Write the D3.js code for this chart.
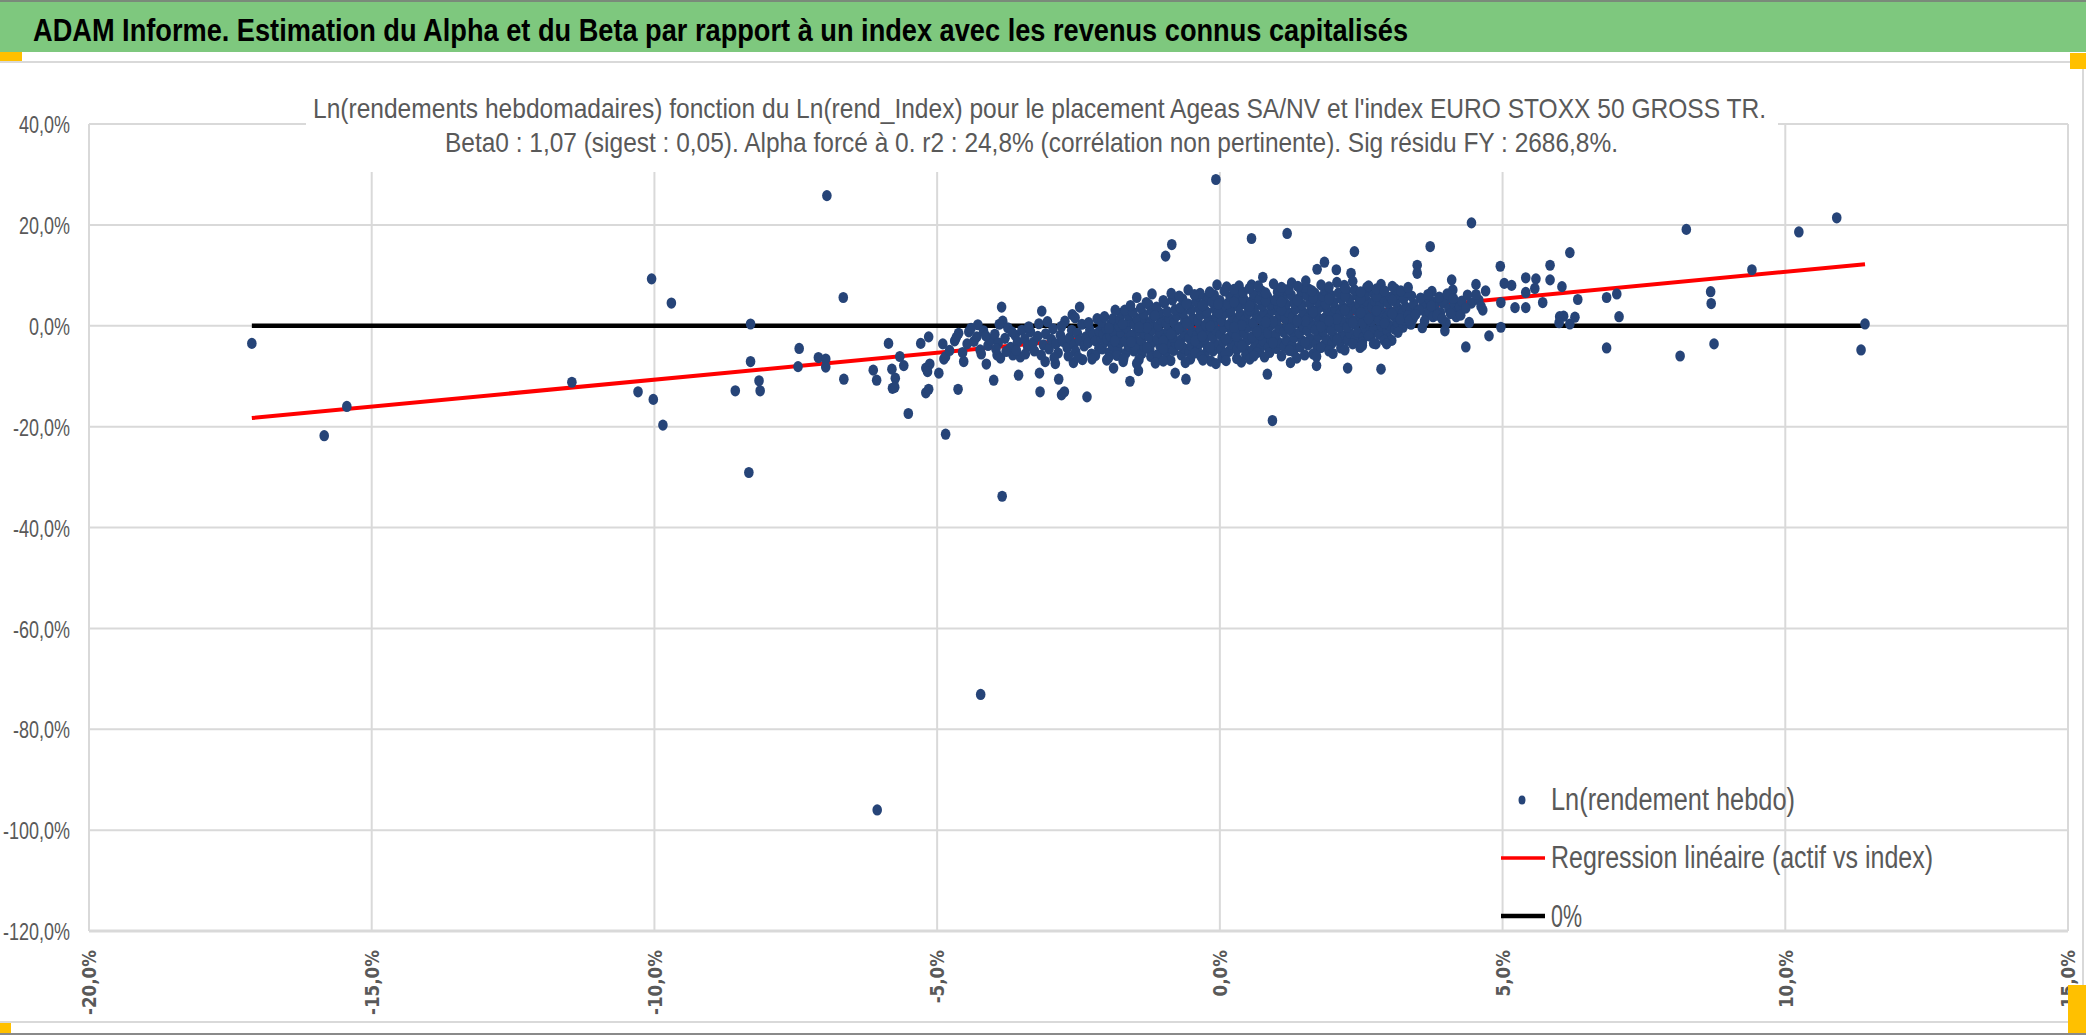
<!DOCTYPE html>
<html><head><meta charset="utf-8">
<script src="https://cdn.jsdelivr.net/npm/d3@7"></script>
<style>html,body{margin:0;padding:0;background:#fff;overflow:hidden}svg{display:block}</style>
</head><body>
<svg id="chart" width="2086" height="1035"></svg>
<script>
// ---------- texts ----------
const headerTitle = "ADAM Informe. Estimation du Alpha et du Beta par rapport à un index avec les revenus connus capitalisés";
const chartTitleLines = [
  "Ln(rendements hebdomadaires) fonction du Ln(rend_Index) pour le placement Ageas SA/NV et l'index EURO STOXX 50 GROSS TR.",
  "Beta0 : 1,07 (sigest : 0,05). Alpha forcé à 0. r2 : 24,8% (corrélation non pertinente). Sig résidu FY : 2686,8%."
];
const legendLabels = ["Ln(rendement hebdo)", "Regression linéaire (actif vs index)", "0%"];

// ---------- axes ----------
const xTicks = [-20, -15, -10, -5, 0, 5, 10, 15];
const yTicks = [40, 20, 0, -20, -40, -60, -80, -100, -120];

// ---------- lines (index %, asset %) ----------
const regressionLine = [[-17.12, -18.3], [11.41, 12.2]];
const zeroLine = [[-17.12, 0], [11.41, 0]];

// ---------- weekly points [index %, asset %] ----------
const pointsLeft = [
  [-17.12,-3.5],[-15.84,-21.8],[-15.44,-16.0],[-11.46,-11.2],[-10.29,-13.1],[-10.02,-14.6],[-9.85,-19.7],
  [-10.05,9.3],[-9.70,4.5],[-8.57,-12.9],[-8.33,-29.1],[-8.15,-10.9],[-8.13,-12.9],[-8.3,0.35],[-8.3,-7.1],
  [-7.44,-4.5],[-7.46,-8.1],[-7.1,-6.3],[-6.97,-6.6],[-6.97,-8.2],[-6.95,25.8],[-6.66,5.6],[-6.65,-10.6],
  [-6.13,-8.8],[-6.07,-10.8],[-5.86,-3.5],[-5.8,-8.6],[-5.74,-10.4],[-5.79,-12.4],[-5.75,-12.2],[-5.66,-6.1],
  [-5.59,-7.9],[-5.51,-17.4],[-5.29,-3.5],[-5.15,-2.2],[-5.2,-8.4],[-5.13,-7.6],[-5.17,-9.1],[-5.2,-13.3],
  [-5.15,-12.6],[-4.97,-9.4],[-4.88,-6.6],[-4.85,-6.1],[-4.69,-3.0],[-4.62,-1.5],[-4.63,-12.6],[-4.53,-7.1],
  [-4.85,-21.5],[-4.44,-1.2],[-4.28,0.2],[-4.35,-3.1],[-4.24,-4.8],[-4.13,-7.6],[-4.0,-10.8],
  [-3.86,3.7],[-3.84,0.9],[-3.94,-5.8],[-3.88,-6.4],[-3.66,-5.8],[-3.56,-9.8],[-3.53,-6.2],
  [-3.19,-9.4],[-3.18,-13.1],[-3.15,2.9],[-3.09,-7.1],[-2.91,-7.5],[-2.85,-10.6],[-2.8,-13.7],[-2.75,-13.1],
  [-2.35,-14.1],[-2.59,-7.3],[-2.48,3.7],[-2.61,2.2],
  [-4.3,-2.2],[-4.18,-1.0],[-4.1,-3.9],[-4.05,-2.8],[-3.98,-1.7],[-3.92,-3.4],[-3.8,-2.5],[-3.75,-0.4],
  [-3.7,-4.3],[-3.62,-1.9],[-3.58,-3.2],[-3.5,-0.9],
  [-3.45,-2.6],[-3.4,-4.1],[-3.35,-1.2],[-3.3,-3.3],[-3.28,-5.0],[-3.22,-2.1],[-3.2,0.4],[-3.12,-3.8],
  [-3.08,-1.6],[-3.02,-4.6],[-2.98,-2.7],[-2.95,-0.6],[-2.9,-3.6],[-2.86,-5.4],[-2.82,-1.9],[-2.78,-3.1],
  [-2.74,0.9],[-2.7,-4.3],[-2.66,-2.4],[-2.62,-0.9],[-2.58,-3.7],[-2.55,-5.1],[-2.52,-1.5],[-2.48,-2.9],
  [-2.44,0.3],[-2.4,-4.0],[-2.37,-2.2],[-2.33,-3.4],[-2.3,-0.8],[-2.27,-5.6],[-2.24,-1.7],[-2.2,-3.0],
  [-2.17,1.4],[-2.14,-4.5],[-2.1,-2.5],
  [-4.9,-3.6],[-4.78,-4.9],[-4.66,-2.3],[-4.55,-5.3],[-4.47,-3.6],[-4.4,-0.5],[-4.22,-5.6],[-4.14,-2.0],
  [-3.96,-4.6],[-3.9,0.3],[-3.78,-5.1],[-3.68,-1.2],[-3.6,-4.9],[-3.44,-5.6],[-3.38,-0.2],[-3.16,-5.8],
  [-3.05,0.8],[-2.93,-6.3],[-2.8,-0.1],[-2.68,-6.0],[-2.56,1.6],[-2.43,-6.7],[-2.32,0.6],[-2.2,-5.9],[-2.13,-1.1]
];
const pointsCore = [
  [-2.08,-4.6],[-2.03,-3.2],[-2.06,-1.7],[-2.01,-0.6],[-2.09,0.7],[-2.04,1.8],[-2.0,-2.6],
  [-1.95,-5.3],[-1.9,-3.9],[-1.94,-2.1],[-1.88,-1.2],[-1.93,0.3],[-1.89,1.4],[-1.96,-0.5],
  [-1.8,-4.8],[-1.76,-3.3],[-1.81,-2.7],[-1.75,-1.3],[-1.79,-0.1],[-1.77,1.2],[-1.74,2.5],[-1.82,-5.9],
  [-1.66,-5.4],[-1.62,-4.0],[-1.67,-3.0],[-1.61,-1.7],[-1.65,-0.4],[-1.6,0.9],[-1.63,2.1],[-1.68,3.1],
  [-1.52,-5.0],[-1.48,-3.6],[-1.53,-2.4],[-1.47,-1.1],[-1.51,0.2],[-1.46,1.4],[-1.54,2.7],[-1.49,-4.5],
  [-1.38,-5.5],[-1.34,-4.1],[-1.39,-2.9],[-1.33,-1.6],[-1.37,-0.2],[-1.32,1.0],[-1.35,2.3],[-1.4,3.5],
  [-1.24,-4.7],[-1.2,-3.4],[-1.25,-2.2],[-1.19,-0.8],[-1.23,0.5],[-1.18,1.8],[-1.21,2.9],[-1.26,4.2],[-1.22,-6.1],
  [-1.1,-5.7],[-1.06,-3.9],[-1.11,-2.6],[-1.05,-1.4],[-1.09,0.0],[-1.04,1.3],[-1.07,2.6],[-1.12,3.7],
  [-0.96,-5.1],[-0.92,-3.8],[-0.97,-2.5],[-0.91,-1.1],[-0.95,0.4],[-0.9,1.5],[-0.93,2.8],[-0.98,4.5],[-0.94,-6.4],
  [-0.82,-4.9],[-0.78,-3.5],[-0.83,-2.3],[-0.77,-0.9],[-0.81,0.6],[-0.76,2.0],[-0.79,3.2],[-0.84,5.1],
  [-0.68,-5.8],[-0.64,-4.4],[-0.69,-2.8],[-0.63,-1.6],[-0.67,-0.1],[-0.62,1.2],[-0.65,2.5],[-0.7,3.6],[-0.66,5.3],
  [-0.54,-5.2],[-0.5,-3.9],[-0.55,-2.4],[-0.49,-1.2],[-0.53,0.3],[-0.48,1.5],[-0.51,3.1],[-0.56,4.3],[-0.52,-6.6],
  [-0.4,-4.8],[-0.36,-3.5],[-0.41,-1.9],[-0.35,-0.7],[-0.39,0.9],[-0.34,2.2],[-0.37,3.4],[-0.42,4.8],[-0.38,5.9],
  [-0.26,-5.6],[-0.22,-4.1],[-0.27,-2.7],[-0.21,-1.3],[-0.25,0.2],[-0.2,1.3],[-0.23,2.7],[-0.28,4.2],[-0.24,5.5],
  [-0.12,-5.0],[-0.08,-3.6],[-0.13,-2.2],[-0.07,-0.8],[-0.11,0.6],[-0.06,1.9],[-0.09,3.3],[-0.14,4.7],[-0.1,6.1],
  [0.02,-4.8],[0.06,-3.2],[0.01,-1.8],[0.07,-0.4],[0.03,1.0],[0.08,2.4],[0.05,3.8],[0.0,5.0],[0.04,-6.3],
  [0.16,-5.1],[0.2,-3.7],[0.15,-2.5],[0.21,-1.1],[0.17,0.3],[0.22,1.7],[0.19,3.0],[0.14,4.4],[0.18,5.8],
  [0.3,-4.7],[0.34,-3.3],[0.29,-2.1],[0.35,-0.5],[0.31,0.9],[0.36,2.3],[0.33,3.7],[0.28,5.1],[0.32,6.5],
  [0.44,-4.5],[0.48,-2.9],[0.43,-1.5],[0.49,-0.3],[0.45,1.3],[0.5,2.5],[0.47,4.1],[0.42,5.3],[0.46,-5.7],
  [0.58,-4.8],[0.62,-3.4],[0.57,-2.2],[0.63,-0.6],[0.59,0.6],[0.64,2.2],[0.61,3.4],[0.56,4.8],[0.6,6.2],
  [0.72,-4.4],[0.76,-3.0],[0.71,-1.8],[0.77,-0.2],[0.73,1.2],[0.78,2.6],[0.75,4.0],[0.7,5.2],[0.74,6.9],
  [0.86,-4.2],[0.9,-2.6],[0.85,-1.4],[0.91,0.2],[0.87,1.4],[0.92,3.0],[0.89,4.2],[0.84,5.8],[0.88,-5.3],
  [1.0,-4.5],[1.04,-3.3],[0.99,-1.7],[1.05,-0.5],[1.01,1.1],[1.06,2.3],[1.03,3.9],[0.98,5.1],[1.02,6.7],
  [1.14,-4.1],[1.18,-2.9],[1.13,-1.3],[1.19,0.1],[1.15,1.5],[1.2,2.7],[1.17,4.3],[1.12,5.5],[1.16,7.1],
  [1.28,-3.9],[1.32,-2.3],[1.27,-1.1],[1.33,0.5],[1.29,1.7],[1.34,3.3],[1.31,4.5],[1.26,6.1],[1.3,-5.1],
  [1.42,-4.2],[1.46,-3.0],[1.41,-1.4],[1.47,-0.2],[1.43,1.4],[1.48,2.6],[1.45,4.2],[1.4,5.4],[1.44,6.8],
  [1.56,-3.8],[1.6,-2.6],[1.55,-1.0],[1.61,0.4],[1.57,1.6],[1.62,3.2],[1.59,4.4],[1.54,6.0],[1.58,7.2],
  [1.7,-3.6],[1.74,-2.0],[1.69,-0.8],[1.75,0.8],[1.71,2.0],[1.76,3.6],[1.73,4.8],[1.68,6.4],[1.72,-4.7],
  [1.84,-3.9],[1.88,-2.7],[1.83,-1.1],[1.89,0.3],[1.85,1.5],[1.9,3.1],[1.87,4.3],[1.82,5.9],[1.86,7.0],
  [1.98,-3.5],[2.02,-2.1],[1.97,-0.9],[2.03,0.7],[1.99,1.9],[2.04,3.5],[2.01,4.7],[1.96,6.1],
  [2.12,-3.1],[2.16,-1.9],[2.11,-0.3],[2.17,0.9],[2.13,2.5],[2.18,3.7],[2.15,5.3],[2.1,6.5],[2.14,-4.4],
  [2.26,-2.9],[2.3,-1.5],[2.25,-0.3],[2.31,1.3],[2.27,2.5],[2.32,4.1],[2.29,5.3],[2.24,6.9],
  [2.4,-2.5],[2.44,-1.3],[2.39,0.3],[2.45,1.5],[2.41,3.1],[2.46,4.3],[2.43,5.9],[2.38,7.1],
  [2.54,-2.3],[2.58,-0.7],[2.53,0.5],[2.59,2.1],[2.55,3.3],[2.6,4.9],[2.57,6.1],[2.52,-3.3],
  [2.68,-1.9],[2.72,-0.7],[2.67,0.9],[2.73,2.1],[2.69,3.7],[2.74,4.9],[2.71,6.5],
  [2.82,-1.7],[2.86,-0.1],[2.81,1.1],[2.87,2.7],[2.83,3.9],[2.88,5.5],[2.85,6.7],
  [2.96,-1.1],[3.0,0.1],[2.95,1.7],[3.01,2.9],[2.97,4.5],[3.02,5.7],[2.99,-2.5],
  [3.1,-0.7],[3.14,0.7],[3.09,1.9],[3.15,3.5],[3.11,4.7],[3.16,6.3],
  [3.24,-0.3],[3.28,1.1],[3.23,2.5],[3.29,3.7],[3.25,5.3],
  [3.38,0.3],[3.42,1.5],[3.37,3.1],[3.43,4.3],[3.39,5.9],
  [-1.86,-3.0],[-1.57,-2.0],[-1.29,-0.4],[-1.0,-3.0],[-0.72,-0.5],[-0.44,-3.0],[-0.17,-0.1],[0.1,-2.6],
  [0.39,0.1],[0.66,-1.2],[0.94,0.8],[1.23,-0.6],[1.51,0.9],[1.79,-0.2],[2.07,1.3],[2.35,0.6],[2.63,1.4],
  [2.91,0.5],[3.19,1.3],
  [-1.72,0.3],[-1.43,-0.3],[-1.15,2.0],[-0.87,-1.7],[-0.59,0.5],[-0.31,-2.1],[-0.03,2.6],[0.25,-0.3],
  [0.53,3.1],[0.81,0.7],[1.09,3.1],[1.37,1.0],[1.65,2.7],[1.93,1.0],[2.21,3.1],[2.49,2.6],[2.77,3.0],
  [3.05,2.4],[3.33,2.0],
  [-1.57,-3.2],[-1.29,-4.3],[-1.0,-4.6],[-0.72,-3.8],[-0.44,-5.4],[-0.17,-4.3],[0.1,-5.5],[0.39,-4.0],
  [0.66,-5.3],[0.94,-3.4],[1.23,-4.9],[1.51,-3.3],[1.79,-4.3],[2.07,-2.8],[2.35,-3.6],[2.63,-2.0],[2.91,-2.9],
  [-0.59,4.3],[-0.31,4.0],[-0.03,4.3],[0.25,4.7],[0.53,3.9],[0.81,4.9],[1.09,4.7],[1.37,5.0],[1.65,5.5],
  [1.93,5.3],[2.21,5.9],[2.49,5.3],[2.77,5.8],[3.05,5.1]
];
const pointsFringe = [
  [-1.47,5.6],[-1.2,6.3],[-0.86,6.4],[-0.56,7.1],[-0.35,6.4],[-0.05,8.1],[0.12,7.7],[0.34,7.9],[0.56,8.1],
  [0.76,9.6],[1.05,7.0],[1.22,7.2],[1.5,7.6],[1.85,12.6],[1.72,11.2],[2.06,11.1],[2.32,10.4],[2.2,8.0],
  [2.6,7.6],[2.85,8.2],[3.1,7.3],[3.31,6.6],[3.49,12.0],[3.49,10.4],[3.75,6.8],[4.1,9.1],[4.12,7.1],
  [4.0,5.1],[3.82,4.8],
  [0.08,6.9],[0.25,7.2],[0.41,6.6],[0.52,7.4],[0.68,7.9],[0.81,6.5],[0.95,8.3],[1.09,7.6],[1.27,8.5],
  [1.38,7.8],[1.52,8.9],[1.63,6.9],[1.79,8.1],[1.93,7.7],[2.07,8.6],[2.22,7.4],[2.35,8.8],[2.49,6.7],
  [2.63,7.9],[2.77,7.3],[2.91,6.9],[3.05,7.8],[3.2,6.9],[3.33,7.6],[-0.18,6.7],[-0.45,6.2],[-0.72,5.9],
  [-1.0,5.0],[-1.3,4.6],[-1.58,4.0],[-1.85,3.1],
  [-1.97,-6.4],[-1.71,-7.1],[-1.43,-6.7],[-1.14,-7.4],[-0.87,-6.9],[-0.61,-7.3],[-0.33,-6.1],[-0.16,-7.0],
  [0.11,-6.9],[0.38,-7.2],[0.53,-6.6],[0.79,-6.2],[1.09,-6.0],[1.36,-6.4],[1.65,-5.6],[1.93,-5.0],
  [2.21,-4.8],[2.48,-4.3],[2.76,-3.6],[3.04,-2.9],[-2.26,-6.6],[-2.51,-6.2],
  [-1.88,-8.4],[-1.44,-8.9],[-1.47,-7.5],[-1.59,-11.0],[-0.6,-10.6],[-0.79,-9.4],[-0.07,-7.5],[0.84,-9.6],
  [0.93,-18.8],[1.25,-7.3],[1.71,-7.9],[1.71,-6.1],[2.26,-8.4],[2.85,-8.6],[2.52,-3.9],[2.72,-3.5],
  [2.95,-3.6],[3.15,-1.3],[-2.0,-6.8],[-1.7,-6.5],[-1.0,-7.0],[-0.3,-6.8],[0.3,-6.5],[0.6,-6.0],
  [1.5,-5.8],[2.0,-5.5],
  [-0.85,16.1],[-0.96,13.8],[0.56,17.3],[1.19,18.3],[2.38,14.7],[3.72,15.7],[-0.07,29.0],
  [-3.85,-33.8],[-4.23,-73.1],[-6.06,-96.0]
];
const pointsRight = [
  [3.5,3.0],[3.6,4.2],[3.65,2.2],[3.7,5.3],[3.8,3.6],[3.9,2.6],[3.95,4.5],[4.05,3.3],[4.15,4.2],[4.2,2.8],
  [3.35,1.1],[3.7,2.8],[3.53,3.1],[4.18,1.8],[3.77,1.8],[4.0,0.6],
  [3.46,2.2],[3.55,5.5],[3.62,0.9],[3.68,6.2],[3.74,3.9],[3.84,2.1],[3.88,5.7],[3.93,1.4],[4.02,6.3],
  [4.08,2.4],[4.13,5.4],[4.24,3.7],[4.28,4.9],[3.58,-0.4],[3.98,-1.0],[4.45,4.5],[4.58,5.1],[4.7,6.9],
  [4.45,20.4],[8.25,19.1],[10.24,18.6],[9.41,11.1],[8.68,6.75],[8.69,4.4],[8.74,-3.6],[8.14,-6.0],
  [6.84,5.6],[7.02,6.3],[7.06,1.8],[6.84,-4.4],[6.19,14.5],[5.84,12.0],[5.84,9.1],[6.05,7.75],[6.33,5.2],
  [5.71,4.6],[6.01,1.8],[6.08,1.9],[6.0,0.6],[6.19,0.35],[6.28,1.7],[5.41,9.5],[5.59,9.3],[5.57,7.4],
  [5.41,6.6],[5.41,3.6],[5.22,3.6],[5.16,8.0],[5.03,8.4],[4.96,11.8],[4.97,4.6],[4.97,-0.3],[4.76,-2.0],
  [4.35,-4.2],[4.41,0.65],[4.26,2.1],[4.35,3.5],[4.38,6.1],[4.53,6.2],[4.53,8.2],[4.62,3.8],[4.65,3.1],
  [10.91,21.4],[11.41,0.36],[11.34,-4.8]
];

// ---------- drawing ----------
const W = 2086, H = 1035;
const svg = d3.select("#chart");
const NARROW = "'Liberation Sans Narrow','Liberation Sans','Arial Narrow',sans-serif";
const GRAY_TXT = "#595959";
const GRID = "#d9d9d9";

function natW(sel){ return sel.node().getComputedTextLength(); }
function fitTo(sel, w){ sel.attr("textLength", w).attr("lengthAdjust", "spacingAndGlyphs"); return sel; }

svg.append("rect").attr("width", W).attr("height", H).attr("fill", "#fff");

// header band
svg.append("rect").attr("x", 0).attr("y", 0).attr("width", W).attr("height", 52).attr("fill", "#7ec87e");
svg.append("rect").attr("x", 0).attr("y", 0).attr("width", W).attr("height", 2).attr("fill", "#7a8a7a");
const hdr = svg.append("text").attr("x", 33).attr("y", 41)
  .attr("font-family", NARROW).attr("font-weight", "bold").attr("font-size", 32).attr("fill", "#000")
  .text(headerTitle);
fitTo(hdr, 1375);

// chart frame lines
svg.append("rect").attr("x", 0).attr("y", 61).attr("width", W).attr("height", 2).attr("fill", GRID);
svg.append("rect").attr("x", 0).attr("y", 1021).attr("width", W).attr("height", 2).attr("fill", GRID);
svg.append("rect").attr("x", 2082).attr("y", 62).attr("width", 2).attr("height", 960).attr("fill", GRID);
svg.append("rect").attr("x", 0).attr("y", 1033).attr("width", W).attr("height", 2).attr("fill", "#8a8a8a");

// scales
const x = d3.scaleLinear().domain([-20, 15]).range([89, 2068]);
const y = d3.scaleLinear().domain([-120, 40]).range([931, 124]);

// gridlines
const g = svg.append("g");
g.selectAll(".vg").data(xTicks).join("line")
  .attr("x1", d => x(d)).attr("x2", d => x(d)).attr("y1", y(40)).attr("y2", y(-120))
  .attr("stroke", GRID).attr("stroke-width", 2);
g.selectAll(".hg").data(yTicks).join("line")
  .attr("x1", x(-20)).attr("x2", x(15)).attr("y1", d => y(d)).attr("y2", d => y(d))
  .attr("stroke", GRID).attr("stroke-width", d => d === -120 ? 3 : 2);

// axis labels via d3 axes
const fmt = d => d.toFixed(1).replace(".", ",") + "%";
const yAxisG = svg.append("g").attr("transform", `translate(${x(-20) - 19},0)`)
  .call(d3.axisLeft(y).tickValues(yTicks).tickFormat(fmt).tickSize(0).tickPadding(0));
yAxisG.select(".domain").remove();
yAxisG.selectAll("text").attr("font-family", NARROW).attr("font-size", 24).attr("fill", GRAY_TXT)
  .attr("dy", "0.36em");
{
  const ref = yAxisG.selectAll("text").filter(d => d === 40);
  const k = 51 / natW(ref);
  yAxisG.selectAll("text").each(function(){ const s = d3.select(this); fitTo(s, natW(s) * k); });
}

const xAxisG = svg.append("g").attr("transform", `translate(0,${y(-120)})`)
  .call(d3.axisBottom(x).tickValues(xTicks).tickFormat(fmt).tickSize(0).tickPadding(0));
xAxisG.select(".domain").remove();
xAxisG.selectAll("text")
  .attr("font-family", "'DejaVu Sans',Verdana,sans-serif").attr("font-weight", "bold")
  .attr("font-size", 19).attr("fill", GRAY_TXT)
  .attr("text-anchor", "end").attr("dy", "0.36em")
  .attr("transform", "translate(0,19) rotate(-90)").attr("y", 0).attr("x", 0);
{
  const ref = xAxisG.selectAll("text").filter(d => d === -20);
  const k = 65 / natW(ref);
  xAxisG.selectAll("text").each(function(){ const s = d3.select(this); fitTo(s, natW(s) * k); });
}

// title background + title
svg.append("rect").attr("x", 306).attr("y", 64).attr("width", 1472).attr("height", 108).attr("fill", "#fff");
const t1 = svg.append("text").attr("x", 313).attr("y", 118).attr("font-family", NARROW)
  .attr("font-size", 28).attr("fill", GRAY_TXT).text(chartTitleLines[0]);
fitTo(t1, 1453);
const t2 = svg.append("text").attr("x", 445).attr("y", 152).attr("font-family", NARROW)
  .attr("font-size", 28).attr("fill", GRAY_TXT).text(chartTitleLines[1]);
fitTo(t2, 1173);

// lines
const line = d3.line().x(d => x(d[0])).y(d => y(d[1]));
svg.append("path").datum(zeroLine).attr("d", line).attr("stroke", "#000").attr("stroke-width", 4.5).attr("fill", "none");
svg.append("path").datum(regressionLine).attr("d", line).attr("stroke", "#ff0000").attr("stroke-width", 4).attr("fill", "none");

// points
const allPoints = [].concat(pointsLeft, pointsCore, pointsFringe, pointsRight);
svg.append("g").selectAll("ellipse").data(allPoints).join("ellipse")
  .attr("cx", d => x(d[0])).attr("cy", d => y(d[1])).attr("rx", 4.8).attr("ry", 5.6)
  .attr("fill", "#264478");

// legend
const lg = svg.append("g");
lg.append("ellipse").attr("cx", 1522).attr("cy", 800).attr("rx", 3.5).attr("ry", 4.5).attr("fill", "#264478");
lg.append("line").attr("x1", 1501).attr("x2", 1545).attr("y1", 858).attr("y2", 858).attr("stroke", "#ff0000").attr("stroke-width", 3.5);
lg.append("line").attr("x1", 1501).attr("x2", 1545).attr("y1", 916).attr("y2", 916).attr("stroke", "#000").attr("stroke-width", 4.5);
const legW = [244, 382, 31];
const legY = [810, 868, 927];
legendLabels.forEach((s, i) => {
  const t = lg.append("text").attr("x", 1551).attr("y", legY[i]).attr("font-family", NARROW)
    .attr("font-size", 31).attr("fill", GRAY_TXT).text(s);
  fitTo(t, legW[i]);
});

// selection handles (yellow)
[[0,52,22,9],[2070,53,16,16],[0,1023,11,10],[2068,985,18,48]].forEach(r =>
  svg.append("rect").attr("x", r[0]).attr("y", r[1]).attr("width", r[2]).attr("height", r[3]).attr("fill", "#ffc000"));
</script>
</body></html>
